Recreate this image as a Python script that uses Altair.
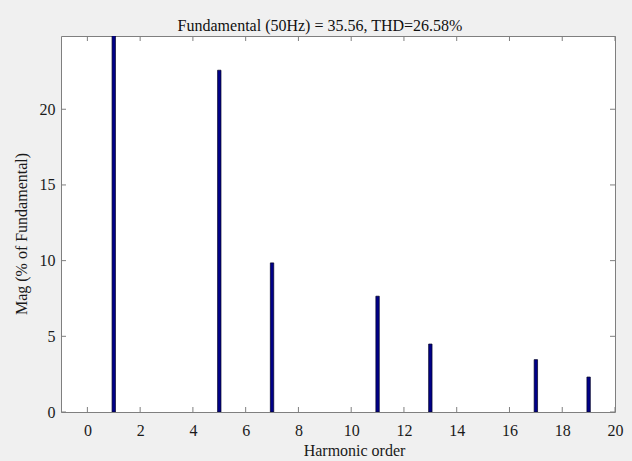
import altair as alt
import pandas as pd

# ---- data ----
harmonics = [1, 5, 7, 11, 13, 17, 19]
magnitudes = [100.0, 22.58, 9.85, 7.65, 4.49, 3.46, 2.31]
x_ticks = [0, 2, 4, 6, 8, 10, 12, 14, 16, 18, 20]
y_ticks = [0, 5, 10, 15, 20]
title_text = "Fundamental (50Hz) = 35.56, THD=26.58%"
x_title = "Harmonic order"
y_title = "Mag (% of Fundamental)"

W, H = 554, 376
FONT = "Liberation Serif"
FRAME = "#7f7f7f"

df = pd.DataFrame({"h": harmonics, "m": magnitudes})
xt = pd.DataFrame({"t": x_ticks})
yt = pd.DataFrame({"t": y_ticks})

xscale = alt.Scale(domain=[-1, 20], nice=False, zero=False, padding=0)
yscale = alt.Scale(domain=[0, 24.84], nice=False, zero=False, padding=0)

x_axis = alt.Axis(
    values=x_ticks, domain=False, ticks=False, tickSize=0, grid=False,
    labelPadding=23, labelBaseline="alphabetic", labelFlush=False,
    title=x_title, titleX=293, titleY=43.5, titleBaseline="alphabetic",
    titleAlign="center")
y_axis = alt.Axis(
    values=y_ticks, domain=False, ticks=False, tickSize=0, grid=False,
    labelPadding=6, labelBaseline="middle", labelFlush=False,
    title=y_title, titleX=-40, titleY=197.5, titleBaseline="middle",
    titleAlign="center", titleAngle=270)

bars = alt.Chart(df).mark_bar(
    orient="vertical", size=3.4, fill="#000088", stroke="#000022",
    strokeWidth=0.7, clip=True
).encode(
    x=alt.X("h:Q", scale=xscale, axis=x_axis),
    y=alt.Y("m:Q", scale=yscale, axis=y_axis),
)

tick_style = dict(color=FRAME, strokeWidth=1)
bottom_ticks = alt.Chart(xt).mark_rule(**tick_style).encode(
    x=alt.X("t:Q", scale=xscale, axis=x_axis),
    y=alt.value(H), y2=alt.value(H - 5))
top_ticks = alt.Chart(xt).mark_rule(**tick_style).encode(
    x=alt.X("t:Q", scale=xscale, axis=x_axis),
    y=alt.value(0), y2=alt.value(5))
left_ticks = alt.Chart(yt).mark_rule(**tick_style).encode(
    y=alt.Y("t:Q", scale=yscale, axis=y_axis),
    x=alt.value(0), x2=alt.value(5))
right_ticks = alt.Chart(yt).mark_rule(**tick_style).encode(
    y=alt.Y("t:Q", scale=yscale, axis=y_axis),
    x=alt.value(W - 5), x2=alt.value(W))

chart = alt.layer(bars, bottom_ticks, top_ticks, left_ticks, right_ticks).properties(
    width=W, height=H,
    autosize=alt.AutoSizeParams(type="none"),
    padding={"left": 61, "top": 36, "right": 17, "bottom": 49},
    background="#f0f0f0",
    title=alt.TitleParams(
        text=title_text, font=FONT, fontSize=16, fontWeight="normal",
        color="#111111", anchor="middle", frame="group", dx=-18, dy=17,
        offset=6, baseline="alphabetic"),
).configure_view(
    stroke=FRAME, strokeWidth=1, fill="white"
).configure_axis(
    labelFont=FONT, labelFontSize=16, labelColor="#1a1a1a",
    titleFont=FONT, titleFontSize=16, titleFontWeight="normal",
    titleColor="#1a1a1a",
)

chart.save("out.html", embed_options={"renderer": "svg", "actions": False})
